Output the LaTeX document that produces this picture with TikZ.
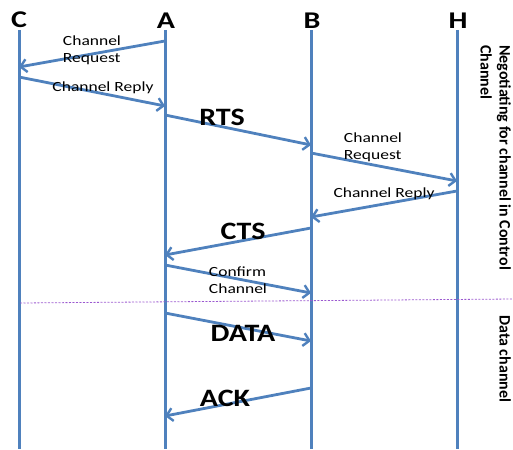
\documentclass[tikz,border=0pt]{standalone}
\usepackage{fontspec}
\setmainfont{Carlito}
\usetikzlibrary{arrows.meta}
\definecolor{lineblue}{HTML}{4F81BD}
\definecolor{dashpurple}{HTML}{9B59D0}
\begin{document}
\begin{tikzpicture}[x=1pt,y=-1pt,
  life/.style={draw=lineblue,line width=3pt},
  msg/.style={draw=lineblue,line width=2.8pt,-{Straight Barb[length=6pt,width=13pt,line width=2.4pt]}},
  head/.style={font=\fontsize{24}{26}\selectfont\bfseries,inner sep=0pt,xscale=1.25},
  big/.style={font=\fontsize{25}{27}\selectfont\bfseries,inner sep=0pt,xscale=1.2},
  small/.style={font=\fontsize{14}{17}\selectfont,align=left,inner sep=0pt,xscale=1.25},
  side/.style={font=\fontsize{16}{19}\selectfont\bfseries,rotate=-90,align=left,inner sep=0pt},
  sep/.style={draw=dashpurple,line width=0.8pt,dash pattern=on 2pt off 1.5pt}]
\useasboundingbox (0,0) rectangle (513,449);
% headers
\node[head] (C) at (19,20) {C};
\node[head] (A) at (166,21) {A};
\node[head] (B) at (312,21) {B};
\node[head] (H) at (458,21) {H};
% lifelines
\coordinate (ctop) at (19,30);  \coordinate (cbot) at (19,449);
\coordinate (atop) at (165,30); \coordinate (abot) at (165,449);
\coordinate (btop) at (311,30); \coordinate (bbot) at (311,449);
\coordinate (htop) at (457,30); \coordinate (hbot) at (457,449);
\draw[life] (ctop) -- (cbot);
\draw[life] (atop) -- (abot);
\draw[life] (btop) -- (bbot);
\draw[life] (htop) -- (hbot);
% message endpoints
\coordinate (m1s) at (165,41);  \coordinate (m1e) at (19,67);
\coordinate (m2s) at (19,77);   \coordinate (m2e) at (165,106);
\coordinate (m3s) at (165,115); \coordinate (m3e) at (311,145);
\coordinate (m4s) at (311,153); \coordinate (m4e) at (457,181);
\coordinate (m5s) at (457,191); \coordinate (m5e) at (311,217);
\coordinate (m6s) at (311,228); \coordinate (m6e) at (165,255);
\coordinate (m7s) at (165,265); \coordinate (m7e) at (311,293);
\coordinate (m8s) at (165,313); \coordinate (m8e) at (311,341);
\coordinate (m9s) at (311,388); \coordinate (m9e) at (165,416);
\draw[msg] (m1s) -- (m1e);
\draw[msg] (m2s) -- (m2e);
\draw[msg] (m3s) -- (m3e);
\draw[msg] (m4s) -- (m4e);
\draw[msg] (m5s) -- (m5e);
\draw[msg] (m6s) -- (m6e);
\draw[msg] (m7s) -- (m7e);
\draw[msg] (m8s) -- (m8e);
\draw[msg] (m9s) -- (m9e);
% separator
\coordinate (sepl) at (20,303); \coordinate (sepr) at (513,299);
\draw[sep] (sepl) -- (sepr);
% labels
\node[small] (l1) at (92,50) {Channel\\Request};
\node[small] (l2) at (103,88) {Channel Reply};
\node[big] (l3) at (222,117) {RTS};
\node[small] (l4) at (373,147) {Channel\\Request};
\node[small] (l5) at (384,194) {Channel Reply};
\node[big] (l6) at (243,231) {CTS};
\node[small] (l7) at (238,280) {Confirm\\Channel};
\node[big] (l8) at (243,333) {DATA};
\node[big] (l9) at (225,398) {ACK};
% side labels
\node[side,anchor=north west] (s1) at (511,45) {Negotiating for channel in Control\\Channel};
\node[side,anchor=north west] (s2) at (511,315) {Data channel};
\end{tikzpicture}
\end{document}
